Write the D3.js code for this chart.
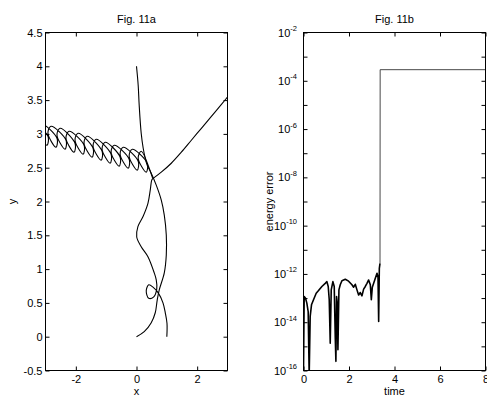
<!DOCTYPE html>
<html><head><meta charset="utf-8">
<script src="https://cdn.jsdelivr.net/npm/d3@7"></script>
<style>body{margin:0;background:#fff} svg text{font-family:"Liberation Sans",Arial,Helvetica,sans-serif}</style>
</head><body><svg id="c" width="487" height="396"></svg>
<script>
// ---------- Fig. 11a data (x, y) ----------
const titleA = "Fig. 11a", titleB = "Fig. 11b";
const xTicksA = [-2, 0, 2];
const xTickLabelsA = ["-2", "0", "2"];
const yTicksA = [-0.5, 0, 0.5, 1, 1.5, 2, 2.5, 3, 3.5, 4, 4.5];
const yTickLabelsA = ["-0.5","0","0.5","1","1.5","2","2.5","3","3.5","4","4.5"];

// body falling from (0,4), down the right strand to (0,0)
const trajFall = [[0,4.0],[0.056,3.717],[0.089,3.422],[0.155,3.009],[0.221,2.788],[0.288,2.640],[0.354,2.537],[0.486,2.419],[0.651,2.242],[0.817,2.021],[0.916,1.799],[0.982,1.504],[0.982,1.209],[0.916,0.944],[0.750,0.693],[0.684,0.546],[0.618,0.354],[0.486,0.206],[0.255,0.074],[0,0]];
// body from (1,0) with small loop, bulge at (0,1.5), up to the encounter
const trajRise = [[1.0,0.0],[1.005,0.20],[0.949,0.354],[0.873,0.501],[0.717,0.649],[0.552,0.730],[0.403,0.767],[0.321,0.678],[0.403,0.568],[0.569,0.590],[0.668,0.708],[0.651,0.841],[0.585,0.944],[0.377,1.184],[0.155,1.332],[0.007,1.475],[0.046,1.627],[0.212,1.774],[0.377,1.972],[0.453,2.168],[0.502,2.316],[0.536,2.338]];
// binary chain drifting left
const trajBinary = [[0.536,2.338],
 [0.155,2.743],[0.056,2.640],[0.320,2.433],[0.353,2.566],
 [-0.142,2.773],[-0.241,2.670],[0.023,2.463],[0.056,2.596],
 [-0.440,2.802],[-0.539,2.699],[-0.275,2.492],[-0.242,2.625],
 [-0.737,2.832],[-0.836,2.729],[-0.572,2.522],[-0.539,2.655],
 [-1.035,2.876],[-1.134,2.773],[-0.870,2.566],[-0.837,2.699],
 [-1.332,2.920],[-1.431,2.817],[-1.167,2.610],[-1.134,2.743],
 [-1.630,2.965],[-1.729,2.862],[-1.465,2.655],[-1.432,2.788],
 [-1.927,3.009],[-2.026,2.906],[-1.762,2.699],[-1.729,2.832],
 [-2.225,3.038],[-2.324,2.935],[-2.060,2.728],[-2.027,2.861],
 [-2.522,3.083],[-2.621,2.980],[-2.357,2.773],[-2.324,2.906],
 [-2.820,3.112],[-2.919,3.009],[-2.655,2.802],[-2.622,2.935],
 [-3.117,3.142],[-3.216,3.039],[-2.952,2.832],[-2.919,2.965],
 [-3.414,3.171]];
// escaping body
const trajEscape = [[0.536,2.338],[0.817,2.434],[1.147,2.566],[1.478,2.729],[1.808,2.906],[2.139,3.083],[2.469,3.260],[2.800,3.437],[3.098,3.599]];

// ---------- Fig. 11b data ----------
const xTicksB = [0, 2, 4, 6, 8];
const xTickLabelsB = ["0", "2", "4", "6", "8"];
const yTickExpB = [-16,-15,-14,-13,-12,-11,-10,-9,-8,-7,-6,-5,-4,-3,-2];
const timeA = [0,0.03,0.09,0.147,0.206,0.25,0.294,0.352,0.44,0.558,0.661,0.808,0.954,1.028,1.087,1.131,1.175,1.219,1.292,1.351,1.395,1.424,1.454,1.483,1.513,1.557,1.615,1.689,1.836,1.982,2.129,2.203,2.276,2.35,2.423,2.496,2.57,2.643,2.717,2.79,2.863,2.937,2.981,3.025,3.084,3.157,3.231,3.275,3.304,3.333,3.363];
const logErrA = [-16,-12.94,-13.01,-13.21,-13.56,-16.2,-13.76,-13.28,-13.07,-12.80,-12.69,-12.52,-12.39,-12.32,-12.52,-13.07,-14.87,-12.66,-12.32,-12.52,-14.59,-15.62,-12.94,-13.21,-15.14,-12.66,-12.45,-12.28,-12.22,-12.30,-12.45,-12.55,-12.43,-12.66,-12.87,-12.77,-12.91,-12.63,-12.52,-12.39,-12.25,-12.45,-13.07,-12.55,-12.39,-12.18,-11.97,-12.14,-13.97,-11.77,-11.56];
const timeB = [3.363, 3.37, 8];
const logErrB = [-11.56, -3.54, -3.54];

// ---------- drawing ----------
const svg = d3.select("#c");
const FS = 11;

function frame(g, L, R, T, B) {
  g.append("rect").attr("x", L).attr("y", T).attr("width", R - L).attr("height", B - T)
    .attr("fill", "none").attr("stroke", "#000").attr("stroke-width", 1);
}
function styleAxis(g) {
  g.select(".domain").remove();
  g.selectAll(".tick line").attr("stroke", "#000");
  g.selectAll(".tick text").attr("font-size", FS).attr("fill", "#000").attr("font-family", null);
}

// ----- panel A -----
const A = {L: 45.5, R: 227.5, T: 32.5, B: 370.5};
const xA = d3.scaleLinear([-3, 3], [A.L, A.R]);
const yA = d3.scaleLinear([-0.5, 4.5], [A.B, A.T]);
const gA = svg.append("g");
gA.append("clipPath").attr("id", "clipA").append("rect")
  .attr("x", A.L).attr("y", A.T).attr("width", A.R - A.L).attr("height", A.B - A.T);

const lineA = d3.line().x(d => xA(d[0])).y(d => yA(d[1])).curve(d3.curveCatmullRom.alpha(0.5));
const gLines = gA.append("g").attr("clip-path", "url(#clipA)");
[trajFall, trajRise, trajBinary, trajEscape].forEach(tr => {
  gLines.append("path").attr("d", lineA(tr)).attr("fill", "none")
    .attr("stroke", "#000").attr("stroke-width", 1.1);
});

styleAxis(gA.append("g").attr("transform", `translate(0,${A.B})`)
  .call(d3.axisBottom(xA).tickValues(xTicksA).tickSizeInner(-4).tickSizeOuter(0).tickPadding(5)
    .tickFormat((d, i) => xTickLabelsA[i])));
styleAxis(gA.append("g").attr("transform", `translate(0,${A.T})`)
  .call(d3.axisTop(xA).tickValues(xTicksA).tickSizeInner(-4).tickSizeOuter(0).tickFormat("")));
styleAxis(gA.append("g").attr("transform", `translate(${A.L},0)`)
  .call(d3.axisLeft(yA).tickValues(yTicksA).tickSizeInner(-4).tickSizeOuter(0).tickPadding(3)
    .tickFormat((d, i) => yTickLabelsA[i])));
styleAxis(gA.append("g").attr("transform", `translate(${A.R},0)`)
  .call(d3.axisRight(yA).tickValues(yTicksA).tickSizeInner(-4).tickSizeOuter(0).tickFormat("")));
frame(gA, A.L, A.R, A.T, A.B);
gA.append("text").attr("x", (A.L + A.R) / 2).attr("y", 23).attr("text-anchor", "middle")
  .attr("font-size", FS).text(titleA);
gA.append("text").attr("x", (A.L + A.R) / 2).attr("y", 394.5).attr("text-anchor", "middle")
  .attr("font-size", FS).text("x");
gA.append("text").attr("transform", `translate(16,${(A.T + A.B) / 2}) rotate(-90)`)
  .attr("text-anchor", "middle").attr("font-size", FS).text("y");

// ----- panel B -----
const Bp = {L: 303.5, R: 485.5, T: 32.5, B: 370.5};
const xB = d3.scaleLinear([0, 8], [Bp.L, Bp.R]);
const yB = d3.scaleLog([1e-16, 1e-2], [Bp.B, Bp.T]);
const gB = svg.append("g");
gB.append("clipPath").attr("id", "clipB").append("rect")
  .attr("x", Bp.L).attr("y", Bp.T).attr("width", Bp.R - Bp.L).attr("height", Bp.B - Bp.T);
const lineB = d3.line().x(d => xB(d[0])).y(d => yB(Math.pow(10, d[1])));
const gLB = gB.append("g").attr("clip-path", "url(#clipB)");
gLB.append("path").attr("d", lineB(timeB.map((t, i) => [t, logErrB[i]])))
  .attr("fill", "none").attr("stroke", "#333").attr("stroke-width", 0.9);
gLB.append("path").attr("d", lineB(timeA.map((t, i) => [t, logErrA[i]])))
  .attr("fill", "none").attr("stroke", "#000").attr("stroke-width", 1.6).attr("stroke-linejoin", "round");

const yTickValsB = yTickExpB.map(e => Math.pow(10, e));
styleAxis(gB.append("g").attr("transform", `translate(0,${Bp.B})`)
  .call(d3.axisBottom(xB).tickValues(xTicksB).tickSizeInner(-4).tickSizeOuter(0).tickPadding(5)
    .tickFormat((d, i) => xTickLabelsB[i])));
styleAxis(gB.append("g").attr("transform", `translate(0,${Bp.T})`)
  .call(d3.axisTop(xB).tickValues(xTicksB).tickSizeInner(-4).tickSizeOuter(0).tickFormat("")));
const gyB = gB.append("g").attr("transform", `translate(${Bp.L},0)`)
  .call(d3.axisLeft(yB).tickValues(yTickValsB).tickSizeInner(-4).tickSizeOuter(0).tickPadding(6.5).tickFormat(""));
styleAxis(gyB);
gyB.selectAll(".tick text").each(function(d, i) {
  const e = yTickExpB[i];
  const t = d3.select(this);
  if (e % 2 !== 0) { t.text(""); return; }
  t.text("10");
  t.append("tspan").attr("dy", "-5.5").attr("font-size", 7.5).text(String(e));
});
styleAxis(gB.append("g").attr("transform", `translate(${Bp.R},0)`)
  .call(d3.axisRight(yB).tickValues(yTickValsB).tickSizeInner(-4).tickSizeOuter(0).tickFormat("")));
frame(gB, Bp.L, Bp.R, Bp.T, Bp.B);
gB.append("text").attr("x", (Bp.L + Bp.R) / 2).attr("y", 23).attr("text-anchor", "middle")
  .attr("font-size", FS).text(titleB);
gB.append("text").attr("x", (Bp.L + Bp.R) / 2).attr("y", 394.5).attr("text-anchor", "middle")
  .attr("font-size", FS).text("time");
gB.append("text").attr("transform", `translate(273,${(Bp.T + Bp.B) / 2}) rotate(-90)`)
  .attr("text-anchor", "middle").attr("font-size", FS).text("energy error");
</script>
</body></html>
